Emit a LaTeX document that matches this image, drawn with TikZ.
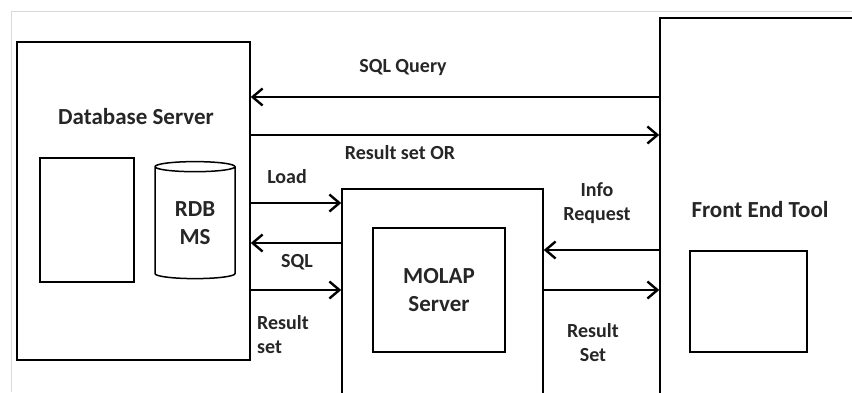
\documentclass[tikz,border=0pt]{standalone}
\usepackage{fontspec}
\setmainfont{Carlito}
\usetikzlibrary{positioning,shapes.geometric,arrows.meta}

\tikzset{
	box/.style={draw,rectangle,line width=1.5pt,inner sep=0pt},
	lbl/.style={font=\bfseries\fontsize{20}{24}\selectfont,text=black!85,align=center,inner sep=0pt},
	ttl/.style={lbl,font=\bfseries\fontsize{23}{28}\selectfont},
	flow/.style={line width=2.4pt,-{Straight Barb[length=10pt,width=17pt,line width=2.4pt]}},
}

\begin{document}
\begin{tikzpicture}[x=1pt,y=-1pt]
	\clip (0,0) rectangle (852,392);
	% light frame of the scan
	\draw[black!15,line width=1pt] (11,392) -- (11,11) -- (852,11);
	% the three servers
	\node[box,minimum width=233,minimum height=318] (dbs) at (133.5,201) {};
	\node[box,minimum width=94,minimum height=124] (dbpage) at (87,220) {};
	\node[draw,line width=1.5pt,cylinder,shape border rotate=90,aspect=0.25,
		minimum width=80,minimum height=117,ttl] (rdbms) at (195,223) {RDB\\MS};
	\node[box,minimum width=201,minimum height=221] (molap) at (442.5,299.5) {};
	\node[box,minimum width=132,minimum height=124,ttl] (molapin) at (439,290) {MOLAP\\Server};
	\node[box,minimum width=220,minimum height=384] (fe) at (770,210) {};
	\node[box,minimum width=117,minimum height=101] (fepage) at (748.5,301.5) {};
	% titles and labels
	\node[ttl] (dbtitle) at (136,117) {Database Server};
	\node[ttl] (fetitle) at (760,210) {Front End Tool};
	\node[lbl] (lsqlq) at (403,68) {SQL Query};
	\node[lbl] (lresor) at (400,153) {Result set OR};
	\node[lbl] (lload) at (287,177) {Load};
	\node[lbl] (lsql) at (297,262) {SQL};
	\node[lbl,align=left,anchor=west] (lres) at (257,335) {Result\\set};
	\node[lbl] (linfo) at (597,203) {Info\\Request};
	\node[lbl] (lresset) at (593,343) {Result\\Set};
	% heights of the arrows
	\coordinate (yq) at (0,97);
	\coordinate (yr) at (0,135);
	\coordinate (yl) at (0,203);
	\coordinate (ys) at (0,243);
	\coordinate (yi) at (0,250);
	\coordinate (yo) at (0,290);
	\path[flow]
	(fe.west |- yq) edge (dbs.east |- yq)
	(dbs.east |- yr) edge (fe.west |- yr)
	(dbs.east |- yl) edge (molap.west |- yl)
	(molap.west |- ys) edge (dbs.east |- ys)
	(dbs.east |- yo) edge (molap.west |- yo)
	(fe.west |- yi) edge (molap.east |- yi)
	(molap.east |- yo) edge (fe.west |- yo);
\end{tikzpicture}
\end{document}
